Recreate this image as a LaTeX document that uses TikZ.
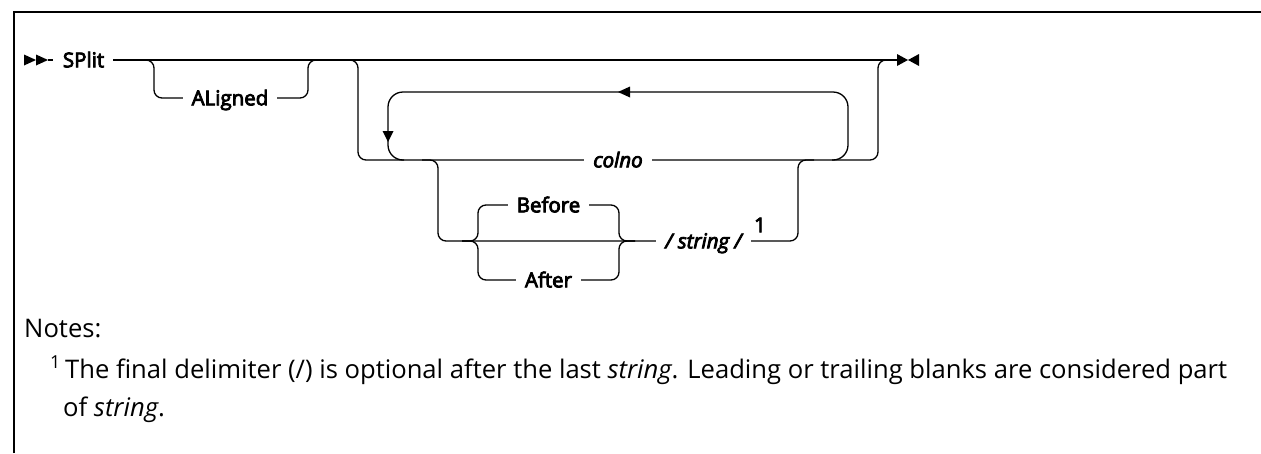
\documentclass[tikz,border=0pt]{standalone}
\usepackage{fontspec}
\setmainfont{Open Sans}
\newfontfamily\diagfont[FakeBold=4]{Open Sans}
\begin{document}
\begin{tikzpicture}[x=1pt,y=-1pt,
  rail/.style={line width=1.3pt, rounded corners=8pt},
  loopline/.style={line width=1.3pt, rounded corners=15pt},
  lbl/.style={fill=white, inner xsep=9pt, inner ysep=2pt, text height=14.6pt, text depth=0pt,
     font=\diagfont\fontsize{20.5}{20.5}\selectfont},
  ilbl/.style={lbl, font=\diagfont\itshape\fontsize{20.5}{20.5}\selectfont},
  notetext/.style={inner sep=0pt, anchor=base west, font=\fontsize{25.6}{30}\selectfont},
  frame/.style={line width=1.8pt}]
\useasboundingbox (0,0) rectangle (1261,453);
% frame
\draw[frame] (14,453) -- (14,12) -- (1261,12);

% start marker
\fill (24,54.5) -- (36,60) -- (24,65.5) -- cycle;
\fill (36,54.5) -- (48,60) -- (36,65.5) -- cycle;
\coordinate (startend) at (48,60);
\coordinate (mainend) at (897,60);
\draw[line width=1.3pt] (startend) -- (53,60);
\draw[line width=1.3pt] (113,60) -- (mainend);
% end marker
\fill (897,54) -- (908,60) -- (897,66) -- cycle;
\fill (919,54) -- (908,60) -- (919,66) -- cycle;

% ALigned branch
\draw[rail] (138,60) -- (154,60) -- (154,98) -- (308,98) -- (308,60) -- (324,60);

% outer optional group
\draw[rail] (342,60) -- (358,60) -- (358,160) -- (878,160) -- (878,60) -- (894,60);
% repeat loop
\draw[loopline] (404,160) -- (388,160) -- (388,92) -- (848,92) -- (848,160) -- (832,160);
\fill (382.5,131) -- (393.5,131) -- (388,142) -- cycle;
\fill (630,86.5) -- (618,92) -- (630,97.5) -- cycle;

% string branch
\draw[rail] (422,160) -- (438,160) -- (438,241) -- (798,241) -- (798,160) -- (814,160);
% Before / After
\draw[rail] (462,241) -- (478,241) -- (478,205) -- (619,205) -- (619,241) -- (635,241);
\draw[rail] (462,241) -- (478,241) -- (478,280) -- (619,280) -- (619,241) -- (635,241);

% labels
\node[lbl] (split) at (83.5,60) {SPlit};
\node[lbl] (aligned) at (230,98) {ALigned};
\node[ilbl] (colno) at (618,160) {colno};
\node[lbl] (before) at (548.5,205) {Before};
\node[lbl] (after) at (548.5,280) {After};
\node[ilbl] (string) at (703.5,241) {/ string /};
\node[inner sep=0pt, text height=14.6pt, text depth=0pt, font=\diagfont\fontsize{20.5}{20.5}\selectfont] (ref1) at (760,225) {1};

% notes
\node[notetext] (notes) at (24,337) {Notes:};
\node[notetext] (note1) at (50,378) {\textsuperscript{1}\,The final delimiter (/) is optional after the last \textit{string}. Leading or trailing blanks are considered part};
\node[notetext] (note1b) at (63,416) {of \textit{string}.};
\end{tikzpicture}
\end{document}
